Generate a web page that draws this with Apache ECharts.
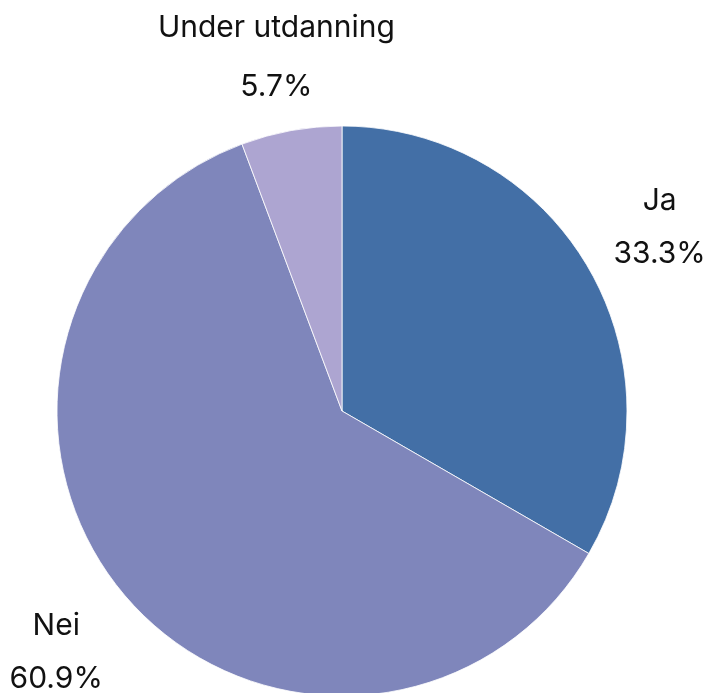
<!DOCTYPE html>
<html><head><meta charset="utf-8">
<script src="https://cdn.jsdelivr.net/npm/echarts@6/dist/echarts.min.js"></script>
<style>html,body{margin:0;padding:0;background:#fff}#c{width:707px;height:693px}</style>
</head><body><div id="c"></div>
<script>
const categories = ['Ja', 'Nei', 'Under utdanning'];
const values = [33.3, 60.9, 5.7];
const colors = ['#436fa6', '#7f86bb', '#ada5d1'];

const labelTweaks = [
  { offset: [-1, 0] },
  { offset: [-5, 4] },
  { offset: [0, 9], lineHeight: 59 }
];

const data = categories.map((n, i) => ({ name: n, value: values[i], itemStyle: { color: colors[i] } }));
const chart = echarts.init(document.getElementById('c'), null, { renderer: 'canvas' });
chart.setOption({
  animation: false,
  series: [
    {
      type: 'pie', center: [342, 411], radius: [0, 285], startAngle: 90, clockwise: true,
      data: data, label: { show: false }, labelLine: { show: false },
      itemStyle: { borderColor: '#ffffff', borderWidth: 0.8 }, silent: true
    },
    {
      type: 'pie', center: [342, 411], radius: [360, 370], startAngle: 90, clockwise: true,
      data: categories.map((n, i) => ({ name: n, value: values[i], label: labelTweaks[i] })),
      itemStyle: { color: 'rgba(0,0,0,0)' }, silent: true,
      labelLine: { show: false },
      label: {
        show: true, position: 'inside', formatter: p => p.name + '\n' + p.value.toFixed(1) + '%',
        fontFamily: 'Inter', fontSize: 30, color: '#111', lineHeight: 53
      }
    }
  ]
});
</script></body></html>
